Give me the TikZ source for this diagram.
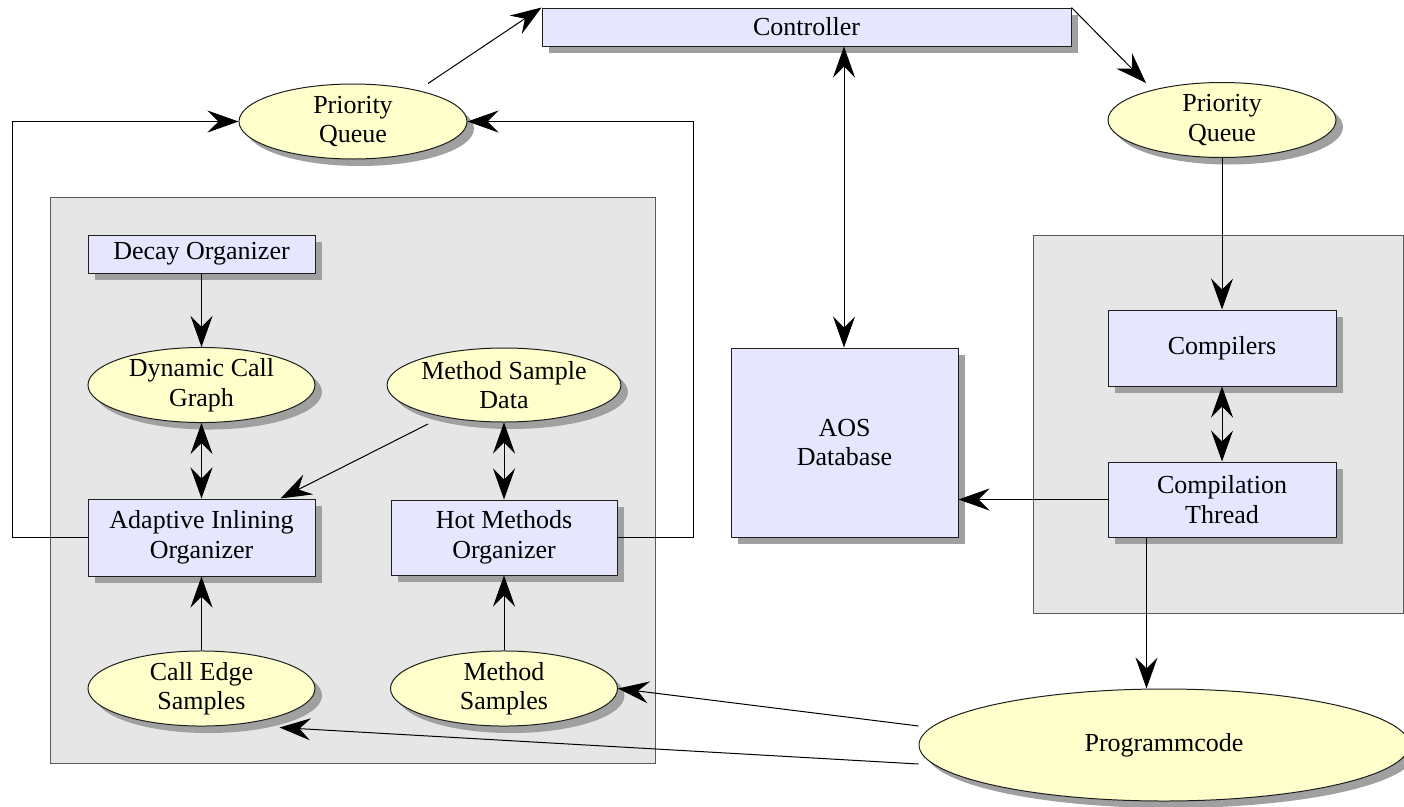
\documentclass[tikz,border=0pt]{standalone}
\usepackage{fontspec}
\setmainfont{Liberation Serif}
\usetikzlibrary{shapes.geometric,shadows,arrows.meta,calc}
\definecolor{boxfill}{RGB}{230,230,255}
\definecolor{ovalfill}{RGB}{255,255,204}
\definecolor{panelfill}{RGB}{230,230,230}
\definecolor{shadowgray}{RGB}{160,160,160}
\definecolor{panelline}{RGB}{90,90,90}
\definecolor{edgeline}{RGB}{30,30,30}

\begin{document}
\begin{tikzpicture}[x=1pt,y=-1pt,
  every node/.style={font=\fontsize{26}{29.5}\selectfont, align=center, inner sep=0pt},
  castshadow/.style={drop shadow={shadow xshift=7pt,shadow yshift=-7pt,fill=shadowgray,opacity=1}},
  procbox/.style={rectangle, draw=edgeline, line width=1pt, fill=boxfill, castshadow},
  store/.style={ellipse, draw=edgeline, line width=1pt, fill=ovalfill, castshadow},
  panel/.style={rectangle, draw=panelline, line width=1pt, fill=panelfill},
  link/.style={line width=1pt, draw=black, -{Stealth[length=31pt,width=22pt,inset=11pt]}},
  dlink/.style={line width=1pt, draw=black, {Stealth[length=31pt,width=22pt,inset=11pt]}-{Stealth[length=31pt,width=22pt,inset=11pt]}},
]
\useasboundingbox (0,0) rectangle (1404,806);

% grouping panels
\node[panel, minimum width=605pt, minimum height=566pt] (panelL) at (352.5,480) {};
\node[panel, minimum width=370pt, minimum height=378pt] (panelR) at (1218,424) {};

% top row
\node[procbox, minimum width=529pt, minimum height=38pt] (ctrl) at (806.5,27) {Controller};
\node[store, minimum width=228pt, minimum height=75pt] (pqL) at (353,121.5) {Priority\\Queue};
\node[store, minimum width=228pt, minimum height=75pt] (pqR) at (1222,120) {Priority\\Queue};

% organizer side
\node[procbox, minimum width=227pt, minimum height=38pt] (dec) at (201.5,254) {Decay Organizer};
\node[store, minimum width=227pt, minimum height=74pt] (dcg) at (201.5,385) {Dynamic Call\\Graph};
\node[store, minimum width=228pt, minimum height=74pt] (msd) at (504,385) {Method Sample\\Data};
\node[procbox, minimum width=227pt, minimum height=77pt] (aio) at (201.5,537.5) {Adaptive Inlining\\Organizer};
\node[procbox, minimum width=226pt, minimum height=75pt] (hmo) at (504,537.5) {Hot Methods\\Organizer};
\node[store, minimum width=227pt, minimum height=73pt] (ces) at (201.5,688.5) {Call Edge\\Samples};
\node[store, minimum width=227pt, minimum height=73pt] (ms) at (504,688.5) {Method\\Samples};

% database and compilation side
\node[procbox, minimum width=227pt, minimum height=189pt] (aos) at (844.5,442.5) {AOS\\Database};
\node[procbox, minimum width=228pt, minimum height=76pt] (comp) at (1222,348) {Compilers};
\node[procbox, minimum width=228pt, minimum height=75pt] (ct) at (1222,499.5) {Compilation\\Thread};
\node[store, minimum width=490pt, minimum height=112pt] (prog) at (1164,745) {Programmcode};

% connectors
\draw[link] ([xshift=75pt,yshift=38pt]pqL.center) -- (ctrl.north west);
\draw[link] (ctrl.north east) -- ([xshift=-76pt,yshift=37pt]pqR.center);
\draw[dlink] (aos.north -| 844,0) -- (ctrl.south -| 844,0);
\draw[link] (pqR) -- (comp);
\draw[dlink] (comp) -- (ct);
\draw[link] (ct.west) -- (aos.east |- ct.west);
\coordinate (ctfoot) at ([xshift=39pt]ct.south west);
\draw[link] (ctfoot) -- (ctfoot |- prog.north);
\draw[link] ([yshift=19pt]prog.west) -- (ms.east);
\draw[link] ([yshift=-19pt]prog.west) -- ([xshift=78pt,yshift=-39pt]ces.center);

\draw[link] (aio.west) -- ++(-75,0) |- (pqL.west);
\draw[link] (hmo.east) -- ++(76,0) |- (pqL.east);
\draw[link] (dec) -- (dcg);
\draw[dlink] (dcg) -- (aio);
\draw[dlink] (msd) -- (hmo);
\draw[link] ([xshift=-76pt,yshift=-39pt]msd.center) -- ([xshift=-35pt]aio.north east);
\draw[link] (ces) -- (aio);
\draw[link] (ms) -- (hmo);
\end{tikzpicture}
\end{document}
